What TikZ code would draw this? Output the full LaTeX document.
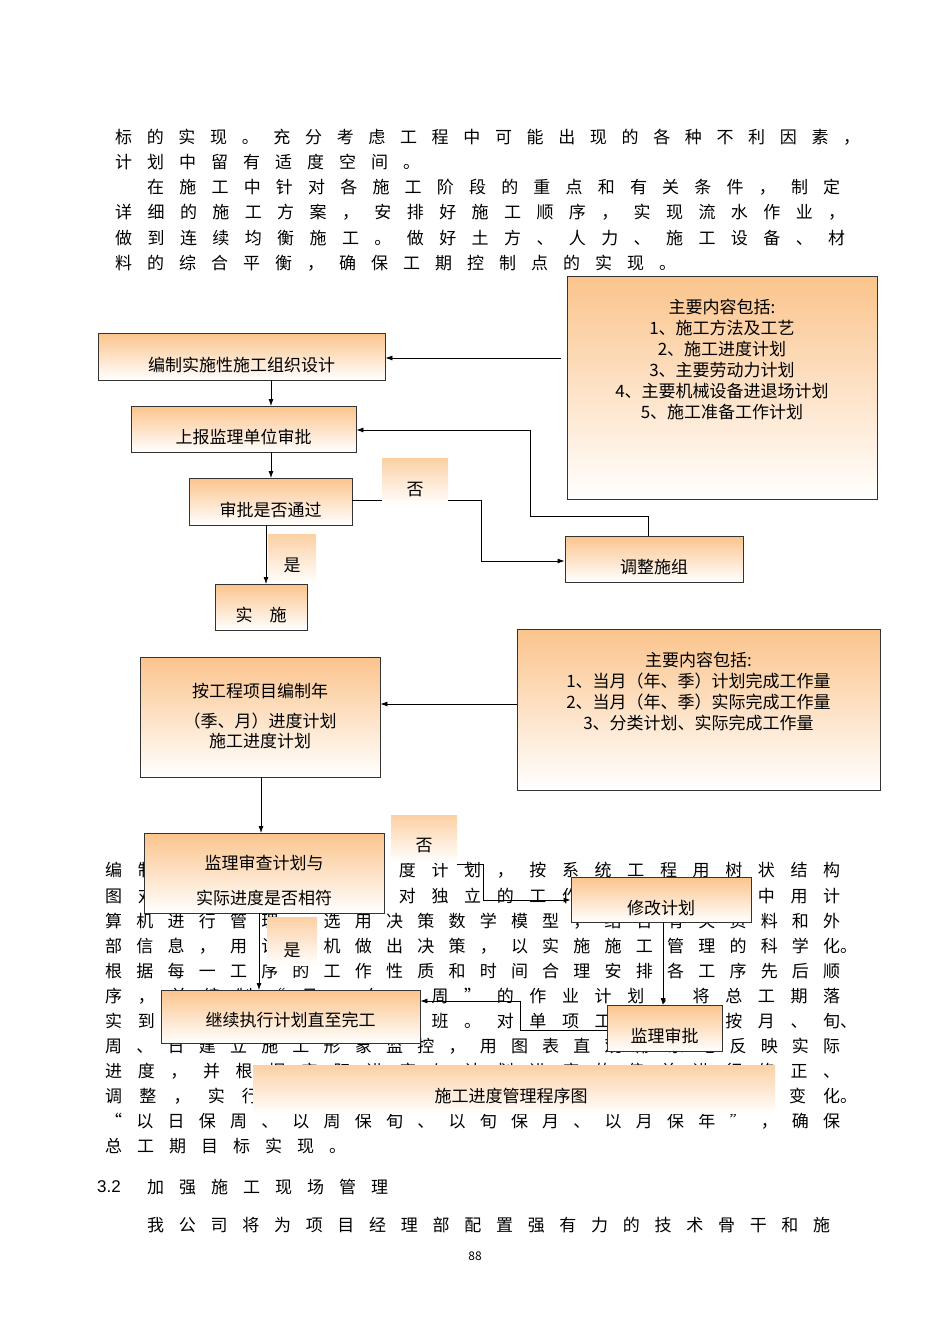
\documentclass[tikz,border=0pt]{standalone}
\usepackage{fontspec}
\setmainfont{Noto Sans CJK SC}
\newfontfamily\arialf{Liberation Sans}
\usetikzlibrary{arrows.meta}
\definecolor{org}{RGB}{251,196,140}
\def\spcA#1{#1\spcB}
\def\spcB#1{\ifx#1\relax\else\hfil#1\expandafter\spcB\fi}
\def\fcA#1{\ifx#1\relax\else\makebox[32pt][l]{#1}\expandafter\fcA\fi}
\newcommand\jl[4]{\node[anchor=west,inner sep=0] at (#1,#2) {\makebox[#3pt][s]{\spcA #4\relax}};}
\newcommand\fl[3]{\node[anchor=west,inner sep=0] at (#1,#2) {\fcA #3\relax};}
\tikzset{x=1pt,y=-1pt,
 every node/.style={font=\fontsize{17}{21}\selectfont},
 bx/.style={draw=black!80,line width=0.8pt,top color=org,bottom color=white,inner sep=0pt},
 lb/.style={top color=org!80,bottom color=white,inner sep=0pt},
 ar/.style={-{Latex[length=7pt,width=5pt]},line width=0.8pt},
 ln/.style={line width=0.8pt}}
\begin{document}
\begin{tikzpicture}
\path[fill=white] (0,0) rectangle (950,1344);
% body text top
\jl{115}{137}{745}{标的实现。充分考虑工程中可能出现的各种不利因素，}
\fl{115}{162}{计划中留有适度空间。}
\jl{147}{187}{693}{在施工中针对各施工阶段的重点和有关条件，制定}
\jl{115}{212}{730}{详细的施工方案，安排好施工顺序，实现流水作业，}
\jl{115}{238}{730}{做到连续均衡施工。做好土方、人力、施工设备、材}
\fl{115}{263}{料的综合平衡，确保工期控制点的实现。}
% body text bottom
\jl{105}{870}{735}{编制各阶段的施工进度计划，按系统工程用树状结构}
\jl{105}{896}{735}{图对工程分解成为相对独立的工作单元，管理中用计}
\jl{105}{921}{735}{算机进行管理，选用决策数学模型，结合有关资料和外}
\node[anchor=west,inner sep=0] at (105,946) {\makebox[735pt][s]{\spcA 部信息，用计算机做出决策，以实施施工管理的科学化\relax}。};
\jl{105}{971}{735}{根据每一工序的工作性质和时间合理安排各工序先后顺}
\jl{105}{996}{735}{序，并编制“月、旬、周”的作业计划，将总工期落}
\node[anchor=west,inner sep=0] at (105,1021) {\makebox[735pt][s]{\spcA 实到每道工序和每个工班。对单项工程计划按月、旬\relax}、};
\jl{105}{1046}{735}{周、日建立施工形象监控，用图表直观形象地反映实际}
\jl{105}{1071}{735}{进度，并根据实际进度与计划进度的偏差进行修正、}
\node[anchor=west,inner sep=0] at (105,1096) {\makebox[735pt][s]{\spcA 调整，实行动态管理，使计划始终适应现场的变化\relax}。};
\jl{105}{1121}{735}{“以日保周、以周保旬、以旬保月、以月保年”，确保}
\fl{105}{1146}{总工期目标实现。}
\node[anchor=west,inner sep=0] (sec) at (97,1187) {\arialf 3.2};
\fl{147}{1187}{加强施工现场管理}
\jl{147}{1225}{683}{我公司将为项目经理部配置强有力的技术骨干和施}
\node[font=\fontsize{12}{14}\selectfont] (pg) at (475,1256) {88};
% boxes
\node[bx,minimum width=287pt,minimum height=47pt] (b1) at (241.5,356.5) {};
\node at (241.5,365) {编制实施性施工组织设计};
\node[bx,minimum width=225pt,minimum height=46pt] (b2) at (243.5,429) {};
\node at (243.5,437) {上报监理单位审批};
\node[bx,minimum width=163pt,minimum height=47pt] (b3) at (270.5,501.5) {};
\node at (270.5,510) {审批是否通过};
\node[bx,minimum width=310pt,minimum height=223pt] (r1) at (722,387.5) {};
\node[align=center,font=\fontsize{17}{21}\selectfont,anchor=north] at (722,296) {主要内容包括:\\1、施工方法及工艺\\2、施工进度计划\\3、主要劳动力计划\\4、主要机械设备进退场计划\\5、施工准备工作计划};
\node[bx,minimum width=178pt,minimum height=46pt] (b4) at (654,559) {};
\node at (654,567) {调整施组};
\node[bx,minimum width=92pt,minimum height=46pt] (b5) at (261,607) {};
\node at (261,615) {实\quad 施};
\node[bx,minimum width=240pt,minimum height=120pt] (b6) at (260,717) {};
\node[align=center,font=\fontsize{17}{24}\selectfont] at (260,716) {按工程项目编制年\\[6pt]（季、月）进度计划\\[-4pt]施工进度计划};
\node[bx,minimum width=363pt,minimum height=161pt] (r2) at (698.5,709.5) {};
\node[align=center,font=\fontsize{17}{21}\selectfont,anchor=north] at (698.5,649) {主要内容包括:\\1、当月（年、季）计划完成工作量\\2、当月（年、季）实际完成工作量\\3、分类计划、实际完成工作量};
\node[bx,minimum width=240pt,minimum height=80pt] (b7) at (264,873) {};
\node[align=center,font=\fontsize{17}{35}\selectfont] at (264,880) {监理审查计划与\\实际进度是否相符};
\node[bx,minimum width=180pt,minimum height=45pt] (b8) at (661,899.5) {};
\node at (661,908) {修改计划};
\node[bx,minimum width=259pt,minimum height=53pt] (b9) at (290.5,1016.5) {};
\node at (290.5,1020) {继续执行计划直至完工};
\node[bx,minimum width=115pt,minimum height=46pt] (b10) at (664.5,1028) {};
\node at (664.5,1036) {监理审批};
% labels
\node[lb,minimum width=66pt,minimum height=47pt] (no1) at (415,481.5) {};
\node at (415,490) {否};
\node[lb,minimum width=48pt,minimum height=49pt] (yes1) at (292,558.5) {};
\node at (292,565) {是};
\node[lb,minimum width=66pt,minimum height=47pt] (no2) at (424,838.5) {};
\node at (424,846) {否};
\node[lb,minimum width=50pt,minimum height=48pt] (yes2) at (292,941) {};
\node at (292,950) {是};
% connectors
\coordinate (r1w) at (561,358);
\draw[ar] (r1w) -- (b1.east |- r1w);
\draw[ar] (271,380) -- (271,406);
\draw[ar] (271,452) -- (271,478);
\coordinate (n1) at (481,500);
\coordinate (n2) at (481,561);
\draw[ln] (b3.east |- n1) -- (no1.west |- n1);
\draw[ar] (no1.east |- n1) -- (n1) -- (n2) -- (b4.west |- n2);
\coordinate (m1) at (648,516);
\coordinate (m2) at (530,516);
\coordinate (m3) at (530,430);
\draw[ar] (b4.north -| m1) -- (m1) -- (m2) -- (m3) -- (b2.east |- m3);
\draw[ar] (266,525) -- (266,584);
\coordinate (r2w) at (517,704);
\draw[ar] (r2w) -- (b6.east |- r2w);
\draw[ar] (261,777) -- (261,833);
\coordinate (k1) at (483,864);
\coordinate (k2) at (483,900);
\draw[ar] (no2.east |- k1) -- (k1) -- (k2) -- (b8.west |- k2);
\draw[ar] (663,922) -- (663,1005);
\coordinate (j1) at (520,1030);
\coordinate (j2) at (520,1001);
\draw[ar] (b10.west |- j1) -- (j1) -- (j2) -- (b9.east |- j2);
\draw[ar] (259,913) -- (259,990);
\node[lb,minimum width=522pt,minimum height=48pt] (cap) at (514,1089) {};
\node at (511,1096) {施工进度管理程序图};
\end{tikzpicture}
\end{document}
